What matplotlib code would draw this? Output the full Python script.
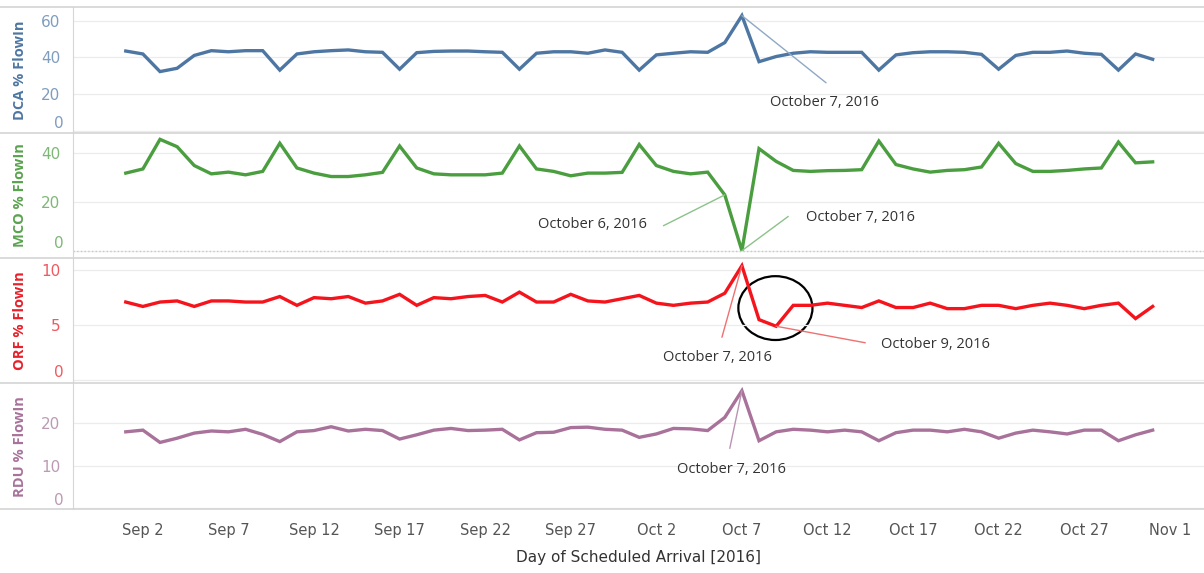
import pandas as pd
import matplotlib
matplotlib.use('Agg')
import matplotlib.pyplot as plt
import matplotlib.dates as mdates
import matplotlib.transforms as mtransforms
from matplotlib.patches import Ellipse
from matplotlib.lines import Line2D

# daily % FlowIn per airport, Sep 1 - Oct 31 2016
days = pd.date_range('2016-09-01', '2016-10-31', freq='D')

dca = [43.4, 41.8, 32.2, 34.0, 41.0, 43.6, 43.0, 43.6, 43.6, 33.0,
       41.8, 43.0, 43.6, 44.0, 43.0, 42.7, 33.5, 42.5, 43.2, 43.4,
       43.4, 43.0, 42.7, 33.5, 42.2, 43.0, 43.0, 42.2, 44.0, 42.7,
       33.0, 41.3, 42.2, 43.0, 42.7, 48.0, 62.7, 37.6, 40.4, 42.2,
       43.0, 42.7, 42.7, 42.7, 33.0, 41.3, 42.5, 43.0, 43.0, 42.7,
       41.6, 33.5, 41.0, 42.7, 42.7, 43.4, 42.2, 41.6, 33.0, 41.8,
       38.9]
mco = [31.7, 33.4, 45.5, 42.5, 34.8, 31.4, 32.1, 31.0, 32.4, 43.9,
       33.8, 31.7, 30.3, 30.3, 31.0, 32.0, 42.8, 33.8, 31.4, 31.0,
       31.0, 31.0, 31.7, 42.8, 33.4, 32.4, 30.6, 31.7, 31.7, 32.0,
       43.4, 34.8, 32.4, 31.4, 32.1, 22.8, 0.0, 41.7, 36.5, 32.8,
       32.4, 32.7, 32.8, 33.1, 44.8, 35.2, 33.4, 32.1, 32.8, 33.1,
       34.2, 43.9, 35.6, 32.4, 32.4, 32.8, 33.4, 33.8, 44.4, 35.9,
       36.3]
orf = [7.1, 6.7, 7.1, 7.2, 6.7, 7.2, 7.2, 7.1, 7.1, 7.6,
       6.8, 7.5, 7.4, 7.6, 7.0, 7.2, 7.8, 6.8, 7.5, 7.4,
       7.6, 7.7, 7.1, 8.0, 7.1, 7.1, 7.8, 7.2, 7.1, 7.4,
       7.7, 7.0, 6.8, 7.0, 7.1, 7.9, 10.4, 5.5, 4.9, 6.8,
       6.8, 7.0, 6.8, 6.6, 7.2, 6.6, 6.6, 7.0, 6.5, 6.5,
       6.8, 6.8, 6.5, 6.8, 7.0, 6.8, 6.5, 6.8, 7.0, 5.6,
       6.7]
rdu = [18.0, 18.4, 15.5, 16.5, 17.7, 18.2, 18.0, 18.6, 17.4, 15.7,
       18.0, 18.3, 19.2, 18.2, 18.6, 18.3, 16.3, 17.3, 18.4, 18.8,
       18.3, 18.4, 18.6, 16.1, 17.8, 17.9, 19.0, 19.1, 18.6, 18.4,
       16.7, 17.5, 18.8, 18.7, 18.3, 21.4, 27.7, 15.9, 18.0, 18.6,
       18.4, 18.0, 18.4, 18.0, 15.9, 17.8, 18.4, 18.4, 18.0, 18.6,
       18.0, 16.5, 17.7, 18.4, 18.0, 17.5, 18.4, 18.4, 15.9, 17.3,
       18.4]

tick_days = pd.to_datetime(['2016-09-02', '2016-09-07', '2016-09-12', '2016-09-17', '2016-09-22',
                            '2016-09-27', '2016-10-02', '2016-10-07', '2016-10-12', '2016-10-17',
                            '2016-10-22', '2016-10-27', '2016-11-01'])
tick_labels = [d.strftime('%b ') + str(d.day) for d in tick_days]

panels = [
    # name, values, line colour, label colour, tick colour, yticks, ylim
    ('DCA % FlowIn', dca, '#4e76a3', '#4e76a3', '#7f9dbf', [0, 20, 40, 60], (-1, 67.4)),
    ('MCO % FlowIn', mco, '#4a9e3f', '#5aa34f', '#7fb777', [0, 20, 40], (-3, 48.3)),
    ('ORF % FlowIn', orf, '#f5141c', '#e8202a', '#ee5a5f', [0, 5, 10], (-0.3, 11.1)),
    ('RDU % FlowIn', rdu, '#a8729a', '#a8729a', '#bd9ab3', [0, 10, 20], (-0.2, 29.4)),
]

fig = plt.figure(figsize=(12.04, 5.73), dpi=100)
gs = fig.add_gridspec(4, 1, left=73/1204, right=1.0, top=1-7/573, bottom=1-509/573, hspace=0)
axes = [fig.add_subplot(gs[i]) for i in range(4)]

for ax, (name, vals, lc, labc, tc, yt, yl) in zip(axes, panels):
    ax.plot(days, vals, color=lc, lw=2.4, solid_joinstyle='miter')
    ax.set_ylim(*yl)
    ax.set_xlim(pd.Timestamp('2016-08-28 22:00'), pd.Timestamp('2016-11-03'))
    # tableau lifts the "0" label inside the pane, so draw it by hand
    ax.set_yticks(yt, [''] + [str(v) for v in yt[1:]])
    ax.tick_params(axis='y', length=0, pad=9, labelsize=11, labelcolor=tc)
    trans = mtransforms.blended_transform_factory(ax.transAxes, ax.transData)
    ax.text(-9/1131, 0, '0', transform=trans, ha='right', va='bottom', fontsize=11, color=tc)
    ax.grid(axis='y', color='#ececec', lw=0.9)
    for s in ['top', 'right', 'bottom']:
        ax.spines[s].set_visible(False)
    ax.spines['left'].set_color('#d6d6d6')
    ax.set_ylabel(name, color=labc, fontsize=10.5, fontweight='bold', family=['Open Sans', 'DejaVu Sans'])
    ax.yaxis.set_label_coords(-0.041, 0.5)
    ax.set_xticks(tick_days)
    ax.tick_params(axis='x', length=0)

axes[1].axhline(0, color='#c8c8c8', lw=1, ls=':')

for ax in axes[:-1]:
    ax.set_xticklabels([])
axes[-1].set_xticklabels(tick_labels, fontsize=10.5, color='#555555')
axes[-1].tick_params(axis='x', pad=10)
axes[-1].set_xlabel('Day of Scheduled Arrival [2016]', fontsize=11, color='#333333', labelpad=9)

# separators across the whole width
for ypx in [7, 133, 258, 383, 509]:
    fig.add_artist(Line2D([0, 1], [1 - ypx/573, 1 - ypx/573], color='#d4d4d4', lw=1.2))

# annotations
def day(s):
    return pd.Timestamp(s)

txt = dict(fontsize=10.5, color='#333333', family=['Open Sans', 'DejaVu Sans'])
axes[0].annotate('', xy=(day('2016-10-07'), 62.7), xytext=(day('2016-10-11 22:00'), 26.1),
                 arrowprops=dict(arrowstyle='-', color='#8ea8c6', lw=1, shrinkA=0, shrinkB=0))
axes[0].text(day('2016-10-11 20:00'), 15.3, 'October 7, 2016', ha='center', va='center', **txt)

axes[1].annotate('', xy=(day('2016-10-06'), 22.8), xytext=(day('2016-10-02 10:00'), 10.2),
                 arrowprops=dict(arrowstyle='-', color='#8cc28a', lw=1, shrinkA=0, shrinkB=0))
axes[1].text(day('2016-09-28 06:00'), 10.7, 'October 6, 2016', ha='center', va='center', **txt)
axes[1].annotate('', xy=(day('2016-10-07'), 0.0), xytext=(day('2016-10-09 17:00'), 14.0),
                 arrowprops=dict(arrowstyle='-', color='#8cc28a', lw=1, shrinkA=0, shrinkB=0))
axes[1].text(day('2016-10-13 22:00'), 13.6, 'October 7, 2016', ha='center', va='center', **txt)

axes[2].annotate('', xy=(day('2016-10-07'), 10.4), xytext=(day('2016-10-05 20:00'), 3.9),
                 arrowprops=dict(arrowstyle='-', color='#f07070', lw=1, shrinkA=0, shrinkB=0))
axes[2].text(day('2016-10-05 14:00'), 2.1, 'October 7, 2016', ha='center', va='center', **txt)
axes[2].annotate('', xy=(day('2016-10-09'), 4.9), xytext=(day('2016-10-14 05:00'), 3.4),
                 arrowprops=dict(arrowstyle='-', color='#f07070', lw=1, shrinkA=0, shrinkB=0))
axes[2].text(day('2016-10-18 07:00'), 3.2, 'October 9, 2016', ha='center', va='center', **txt)
axes[2].add_patch(Ellipse((mdates.date2num(day('2016-10-08 23:00')), 6.55), 4.33, 5.8,
                          fill=False, edgecolor='black', lw=1.6))

axes[3].annotate('', xy=(day('2016-10-07'), 27.7), xytext=(day('2016-10-06 07:00'), 14.1),
                 arrowprops=dict(arrowstyle='-', color='#bb93b2', lw=1, shrinkA=0, shrinkB=0))
axes[3].text(day('2016-10-06 10:00'), 9.2, 'October 7, 2016', ha='center', va='center', **txt)

plt.savefig('out.png', dpi=100)
